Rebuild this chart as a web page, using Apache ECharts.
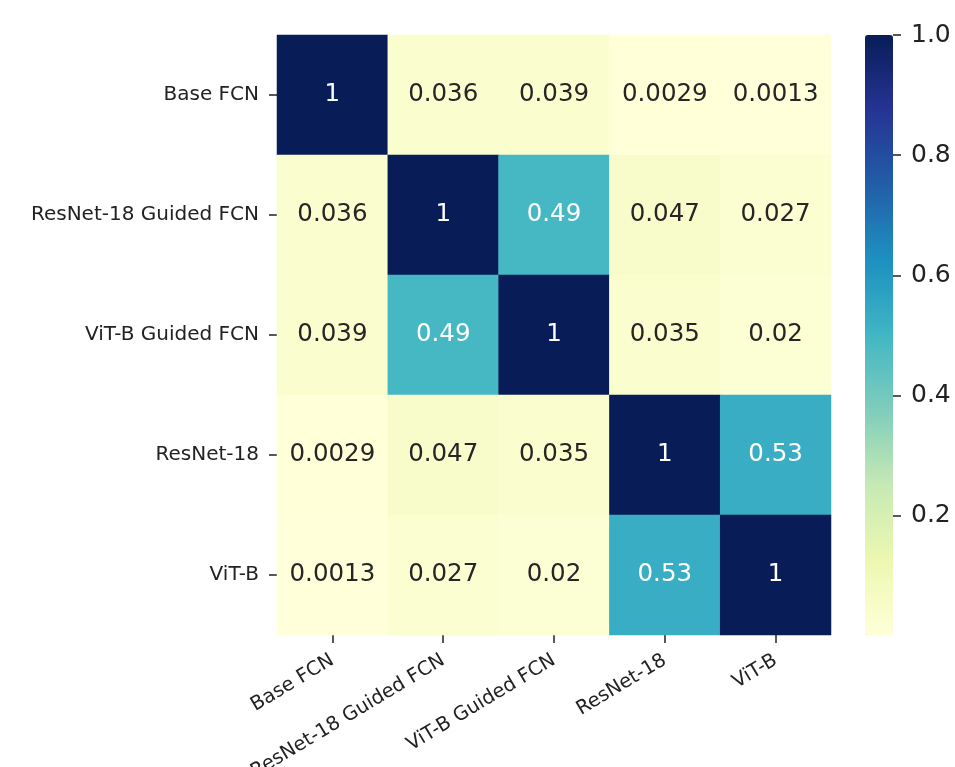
<!DOCTYPE html>
<html>
<head>
<meta charset="utf-8">
<script src="https://cdn.jsdelivr.net/npm/echarts@6/dist/echarts.min.js"></script>
<style>
  html, body { margin: 0; padding: 0; background: #fff; }
  #main { width: 955px; height: 767px; }
</style>
</head>
<body>
<div id="main"></div>
<script>
  // model names (rows top->bottom, columns left->right)
  var models = ["Base FCN", "ResNet-18 Guided FCN", "ViT-B Guided FCN", "ResNet-18", "ViT-B"];
  // similarity matrix, as printed in the cells
  var row0 = ["1", "0.036", "0.039", "0.0029", "0.0013"];
  var row1 = ["0.036", "1", "0.49", "0.047", "0.027"];
  var row2 = ["0.039", "0.49", "1", "0.035", "0.02"];
  var row3 = ["0.0029", "0.047", "0.035", "1", "0.53"];
  var row4 = ["0.0013", "0.027", "0.02", "0.53", "1"];
  var rows = [row0, row1, row2, row3, row4];
  // colorbar ticks
  var barTicks = [0.2, 0.4, 0.6, 0.8, 1.0];
  var vMin = 0.0013, vMax = 1.0;

  // YlGnBu
  var ylgnbu = ["#ffffd9", "#edf8b1", "#c7e9b4", "#7fcdbb", "#41b6c4",
                "#1d91c0", "#225ea8", "#253494", "#081d58"];

  var data = [];
  rows.forEach(function (r, i) {
    r.forEach(function (s, j) {
      var v = parseFloat(s);
      data.push({
        value: [j, i, v],
        label: { color: v > 0.4 ? "#ffffff" : "#262626" },
        txt: s
      });
    });
  });

  var chart = echarts.init(document.getElementById("main"));
  var font = "DejaVu Sans";
  var tick = { show: true, alignWithLabel: true, length: 8, lineStyle: { color: "#222", width: 1.5 } };
  chart.setOption({
    animation: false,
    grid: [
      { left: 277, top: 35, width: 554, height: 600, outerBoundsMode: "none", containLabel: false },
      { left: 865, top: 35, width: 28, height: 600, outerBoundsMode: "none", containLabel: false }
    ],
    xAxis: [
      {
        type: "category", gridIndex: 0, data: models,
        axisLine: { show: false },
        axisTick: tick,
        axisLabel: { rotate: 31, fontFamily: font, fontSize: 19.5, color: "#222", margin: 24, interval: 0 },
        splitLine: { show: false }
      },
      { type: "category", gridIndex: 1, show: false, data: ["c"] }
    ],
    yAxis: [
      {
        type: "category", gridIndex: 0, data: models, inverse: true,
        axisLine: { show: false },
        axisTick: tick,
        axisLabel: { fontFamily: font, fontSize: 20, color: "#222", margin: 18, interval: 0 },
        splitLine: { show: false }
      },
      {
        type: "value", gridIndex: 1, position: "right", min: vMin, max: vMax,
        axisLine: { show: false },
        splitLine: { show: false },
        axisTick: { show: true, length: 8, customValues: barTicks, lineStyle: { color: "#222", width: 1.5 } },
        axisLabel: {
          customValues: barTicks, fontFamily: font, fontSize: 25, color: "#222", margin: 18,
          formatter: function (v) { return v.toFixed(1); }
        }
      }
    ],
    visualMap: {
      type: "continuous",
      seriesIndex: 0,
      min: vMin, max: vMax,
      left: 865, top: 35,
      itemWidth: 28, itemHeight: 600,
      padding: 0,
      calculable: false,
      inRange: { color: ylgnbu }
    },
    series: [
      {
        type: "heatmap",
        xAxisIndex: 0, yAxisIndex: 0,
        data: data,
        label: {
          show: true, fontFamily: font, fontSize: 24.5,
          formatter: function (p) { return p.data.txt; }
        }
      },
      {
        type: "scatter", xAxisIndex: 1, yAxisIndex: 1, data: [], silent: true
      }
    ]
  });
</script>
</body>
</html>
